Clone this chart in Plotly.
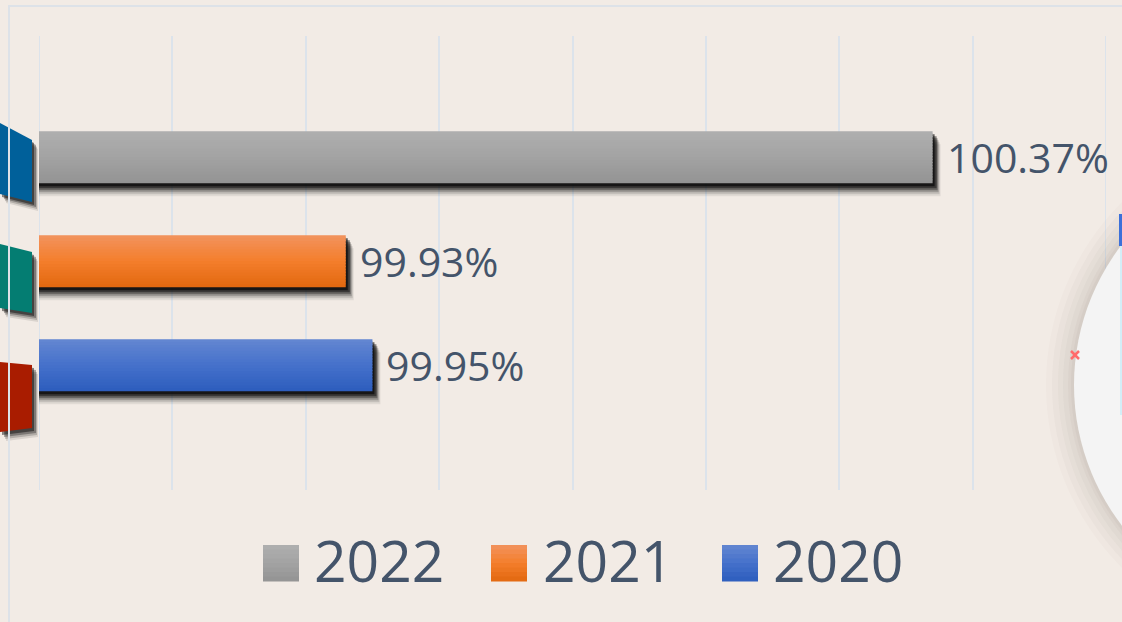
import plotly.graph_objects as go

# ---------------- data ----------------
series = ["2020", "2021", "2022"]          # bottom -> top
values = [99.95, 99.93, 100.37]
legend_order = ["2022", "2021", "2020"]
x_min, x_max, x_step = 99.7, 100.5, 0.1

colors_top = {"2022": "#AFAFAF", "2021": "#F2935E", "2020": "#6487D1"}
colors_mid = {"2022": "#A3A3A3", "2021": "#F47E2C", "2020": "#4571CB"}
colors_bot = {"2022": "#939393", "2021": "#E2680F", "2020": "#2D5DBD"}

TEXT_COLOR = "#44546A"
BG = "#F2EBE5"
GRID = "#DCE3EB"
FONT = "Open Sans"

W, H = 1122, 622
ML, MR, MT, MB = 39, 16, 36, 132
PW, PH = W - ML - MR, H - MT - MB
y_range = [-1.2, 3.165]
BAR_W = 0.5


def hex2rgb(h):
    h = h.lstrip("#")
    return tuple(int(h[i:i + 2], 16) for i in (0, 2, 4))


def mix(c1, c2, t):
    a, b = hex2rgb(c1), hex2rgb(c2)
    return "rgb(%d,%d,%d)" % tuple(round(a[i] + (b[i] - a[i]) * t) for i in range(3))


def grad(name, t):  # t: 0 bottom, 1 top
    if t < 0.5:
        return mix(colors_bot[name], colors_mid[name], t / 0.5)
    return mix(colors_mid[name], colors_top[name], (t - 0.5) / 0.5)


def px2x(px):
    return (px - ML) / PW


def py2y(py):
    return (H - MB - py) / PH


ux = (x_max - x_min) / PW                      # data units per px (x)
uy = (y_range[1] - y_range[0]) / PH            # category units per px (y)

fig = go.Figure()

# ---------------- shadows ----------------
shadow_layers = [(8, 13, 0.07), (7, 11, 0.12), (6, 9, 0.2), (5, 7, 0.32), (4, 5, 0.45), (2, 3, 0.6)]
for dx, dy, a in shadow_layers:
    fig.add_trace(go.Bar(
        y=series, x=[v + dx * ux for v in values], orientation="h",
        width=BAR_W, offset=-BAR_W / 2 - dy * uy,
        marker=dict(color="rgba(0,0,0,%.2f)" % a, line=dict(width=0)),
        showlegend=False, hoverinfo="skip"))

# ---------------- gradient bars ----------------
N = 18
step = BAR_W / N
for i in range(N):
    t = (i + 0.5) / N
    fig.add_trace(go.Bar(
        y=series, x=values, orientation="h",
        width=step * (1.3 if i < N - 1 else 1.0), offset=-BAR_W / 2 + i * step,
        marker=dict(color=[grad(s, t) for s in series], line=dict(width=0)),
        showlegend=False,
        hovertemplate="%{y}: %{x:.2f}%<extra></extra>"))

# ---------------- data labels ----------------
annotations = []
for idx, (s, v) in enumerate(zip(series, values)):
    annotations.append(dict(
        x=v, y=idx, xref="x", yref="y", text="%.2f%%" % v, showarrow=False,
        xanchor="left", yanchor="middle", xshift=12, yshift=0,
        font=dict(size=41, color=TEXT_COLOR, family=FONT)))

shapes = []
# edge gridlines (plotly omits those lying on the range limits)
for xv in (x_min, x_max):
    shapes.append(dict(type="line", xref="x", yref="paper", x0=xv, x1=xv, y0=0, y1=1,
                       line=dict(color=GRID, width=2), layer="below"))

# ---------------- legend (manual) ----------------
leg_marker_px = [263, 491, 722]
leg_text_px = [312, 541, 771]
leg_cy = 563
MS = 36
for name, mx, tx in zip(legend_order, leg_marker_px, leg_text_px):
    ns = 8
    for k in range(ns):
        t = (k + 0.5) / ns
        y_top = leg_cy - MS / 2 + k * MS / ns
        shapes.append(dict(type="rect", xref="paper", yref="paper",
                           x0=px2x(mx), x1=px2x(mx + MS),
                           y0=py2y(y_top + MS / ns + 0.6), y1=py2y(y_top),
                           fillcolor=grad(name, 1 - t), line=dict(width=0)))
    annotations.append(dict(
        x=px2x(tx), y=py2y(leg_cy - 3), xref="paper", yref="paper", text=name,
        showarrow=False, xanchor="left", yanchor="middle",
        font=dict(size=57, color=TEXT_COLOR, family=FONT)))

# ---------------- decorative fragments (left) ----------------
left_polys = [
    ([(0, 123), (32, 140), (32, 202), (0, 194)], "#00609A"),
    ([(0, 244), (32, 252), (32, 313), (0, 308)], "#047D72"),
    ([(0, 362), (32, 365), (32, 428), (0, 432)], "#A91C00"),
]


def poly_path(pts, dx=0, dy=0):
    return "M " + " L ".join("%.5f,%.5f" % (px2x(x + dx), py2y(y + dy)) for x, y in pts) + " Z"


for pts, col in left_polys:
    for dx, dy, a in [(6, 9, 0.1), (5, 7, 0.18), (4, 5, 0.3), (2, 3, 0.45)]:
        shapes.append(dict(type="path", xref="paper", yref="paper",
                           path=poly_path(pts, dx, dy),
                           fillcolor="rgba(0,0,0,%.2f)" % a, line=dict(width=0)))
    shapes.append(dict(type="path", xref="paper", yref="paper", path=poly_path(pts),
                       fillcolor=col, line=dict(width=0)))

# ---------------- decorative fragment (right) ----------------
cx, cy, r = 1304, 385, 230
for extra, a in [(28, 0.025), (22, 0.03), (16, 0.035), (11, 0.04), (6, 0.045), (3, 0.05)]:
    rr = r + extra
    shapes.append(dict(type="circle", xref="paper", yref="paper",
                       x0=px2x(cx - rr), x1=px2x(cx + rr), y0=py2y(cy + rr), y1=py2y(cy - rr),
                       fillcolor="rgba(110,100,90,%.3f)" % a, line=dict(width=0)))
shapes.append(dict(type="circle", xref="paper", yref="paper",
                   x0=px2x(cx - r), x1=px2x(cx + r), y0=py2y(cy + r), y1=py2y(cy - r),
                   fillcolor="#F4F4F4", line=dict(width=0)))
shapes.append(dict(type="rect", xref="paper", yref="paper",
                   x0=px2x(1120), x1=px2x(1123), y0=py2y(415), y1=py2y(232),
                   fillcolor="#D3EEF7", line=dict(width=0)))
shapes.append(dict(type="rect", xref="paper", yref="paper",
                   x0=px2x(1119), x1=px2x(1123), y0=py2y(246), y1=py2y(214),
                   fillcolor="#3C70D9", line=dict(width=0)))
for (x0, y0, x1, y1) in [(1071, 351, 1079, 359), (1071, 359, 1079, 351)]:
    shapes.append(dict(type="line", xref="paper", yref="paper",
                       x0=px2x(x0), y0=py2y(y0), x1=px2x(x1), y1=py2y(y1),
                       line=dict(color="#FF6B6B", width=2.5)))

# ---------------- outer frame ----------------
shapes.append(dict(type="rect", xref="paper", yref="paper",
                   x0=px2x(9), x1=px2x(1200), y0=py2y(700), y1=py2y(6),
                   fillcolor="rgba(0,0,0,0)", line=dict(color="#DDE2E8", width=2)))

fig.update_layout(
    width=W, height=H,
    margin=dict(l=ML, r=MR, t=MT, b=MB, pad=0),
    paper_bgcolor=BG, plot_bgcolor=BG,
    barmode="overlay",
    showlegend=False,
    xaxis=dict(range=[x_min, x_max], tick0=x_min, dtick=x_step, showgrid=True,
               gridcolor=GRID, gridwidth=2, showticklabels=False, ticks="",
               zeroline=False, showline=False, fixedrange=True),
    yaxis=dict(type="category", categoryorder="array", categoryarray=series,
               range=y_range, showgrid=False, showticklabels=False, ticks="",
               zeroline=False, showline=False, fixedrange=True),
    annotations=annotations,
    shapes=shapes,
    font=dict(family=FONT, color=TEXT_COLOR),
)

fig.write_html("out.html", config={"displayModeBar": False},
               post_script="document.body.style.margin='0px';document.body.style.overflow='hidden';")
